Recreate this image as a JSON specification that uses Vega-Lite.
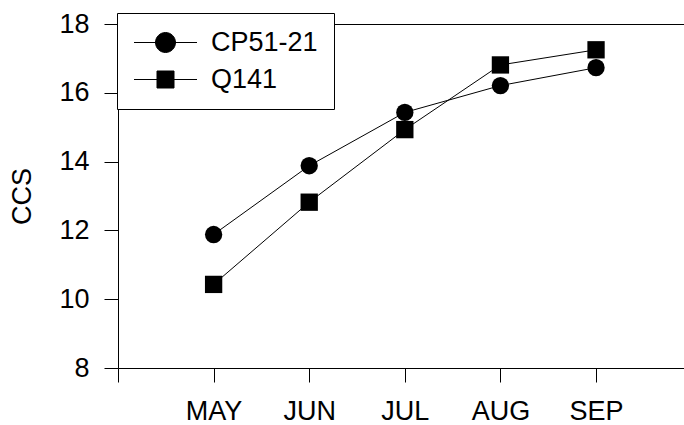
{
  "$schema": "https://vega.github.io/schema/vega-lite/v6.json",
  "width": 566,
  "height": 344,
  "autosize": "none",
  "padding": {"left": 118, "top": 24, "right": 0, "bottom": 57},
  "background": "white",
  "config": {
    "view": {"stroke": null},
    "font": "Liberation Sans",
    "axis": {
      "domainColor": "black",
      "tickColor": "black",
      "labelColor": "black",
      "titleColor": "black",
      "domainWidth": 1,
      "tickWidth": 1,
      "grid": false,
      "labelFont": "Liberation Sans",
      "titleFont": "Liberation Sans",
      "labelFontSize": 27,
      "titleFontSize": 27,
      "titleFontWeight": "normal"
    }
  },
  "data": {
    "values": [
      {"variety": "CP51-21", "month": "MAY", "m": 1, "ccs": 11.88},
      {"variety": "CP51-21", "month": "JUN", "m": 2, "ccs": 13.88},
      {"variety": "CP51-21", "month": "JUL", "m": 3, "ccs": 15.43},
      {"variety": "CP51-21", "month": "AUG", "m": 4, "ccs": 16.21},
      {"variety": "CP51-21", "month": "SEP", "m": 5, "ccs": 16.73},
      {"variety": "Q141", "month": "MAY", "m": 1, "ccs": 10.43},
      {"variety": "Q141", "month": "JUN", "m": 2, "ccs": 12.82},
      {"variety": "Q141", "month": "JUL", "m": 3, "ccs": 14.93},
      {"variety": "Q141", "month": "AUG", "m": 4, "ccs": 16.81},
      {"variety": "Q141", "month": "SEP", "m": 5, "ccs": 17.25}
    ]
  },
  "layer": [
    {
      "mark": {"type": "line", "strokeWidth": 1},
      "encoding": {
        "x": {
          "field": "m",
          "type": "quantitative",
          "scale": {"domain": [0, 5.92], "nice": false, "zero": false},
          "axis": {
            "orient": "bottom",
            "values": [0, 1, 2, 3, 4, 5],
            "labelExpr": "['','MAY','JUN','JUL','AUG','SEP'][datum.value]",
            "title": null,
            "tickSize": 14,
            "labelPadding": 16,
            "labelFlush": false,
            "labelOverlap": false
          }
        },
        "y": {
          "field": "ccs",
          "type": "quantitative",
          "scale": {"domain": [8, 18], "nice": false, "zero": false},
          "axis": {
            "values": [8, 10, 12, 14, 16, 18],
            "title": "CCS",
            "tickSize": 14,
            "labelPadding": 15,
            "titlePadding": 22,
            "labelFlush": false,
            "labelOverlap": false
          }
        },
        "color": {
          "field": "variety",
          "type": "nominal",
          "scale": {"domain": ["CP51-21", "Q141"], "range": ["black", "black"]},
          "legend": {
            "orient": "none",
            "legendX": -1,
            "legendY": -11,
            "title": null,
            "strokeColor": "black",
            "fillColor": "white",
            "padding": 16,
            "labelFont": "Liberation Sans",
            "labelFontSize": 27,
            "labelColor": "black",
            "symbolSize": 400,
            "symbolOffset": 19,
            "labelOffset": 32,
            "rowPadding": 9,
            "labelExpr": "datum.label + '\u00a0\u00a0'",
            "encoding": {
              "symbols": {
                "shape": {"value": {"expr": "datum.value === 'CP51-21' ? 'M-3.15,0H3.15M1,0A1,1 0 1,1 -1,0A1,1 0 1,1 1,0Z' : 'M-3.15,0H3.15M-0.85,-0.85H0.85V0.85H-0.85Z'"}},
                "fill": {"value": "black"},
                "strokeWidth": {"value": 1},
                "size": {"value": 400}
              }
            }
          }
        }
      }
    },
    {
      "transform": [{"filter": "datum.variety === 'CP51-21'"}],
      "mark": {"type": "point", "shape": "circle", "filled": true, "color": "black", "size": 300, "opacity": 1},
      "encoding": {
        "x": {
          "field": "m",
          "type": "quantitative",
          "scale": {"domain": [0, 5.92], "nice": false, "zero": false},
          "axis": {
            "orient": "top",
            "labels": false,
            "ticks": false,
            "domain": true,
            "title": null
          }
        },
        "y": {
          "field": "ccs",
          "type": "quantitative",
          "scale": {"domain": [8, 18], "nice": false, "zero": false}
        }
      }
    },
    {
      "transform": [{"filter": "datum.variety === 'Q141'"}],
      "mark": {"type": "point", "shape": "square", "filled": true, "color": "black", "size": 300, "opacity": 1},
      "encoding": {
        "x": {
          "field": "m",
          "type": "quantitative",
          "scale": {"domain": [0, 5.92], "nice": false, "zero": false},
          "axis": null
        },
        "y": {
          "field": "ccs",
          "type": "quantitative",
          "scale": {"domain": [8, 18], "nice": false, "zero": false}
        }
      }
    }
  ],
  "resolve": {"axis": {"x": "independent"}}
}
